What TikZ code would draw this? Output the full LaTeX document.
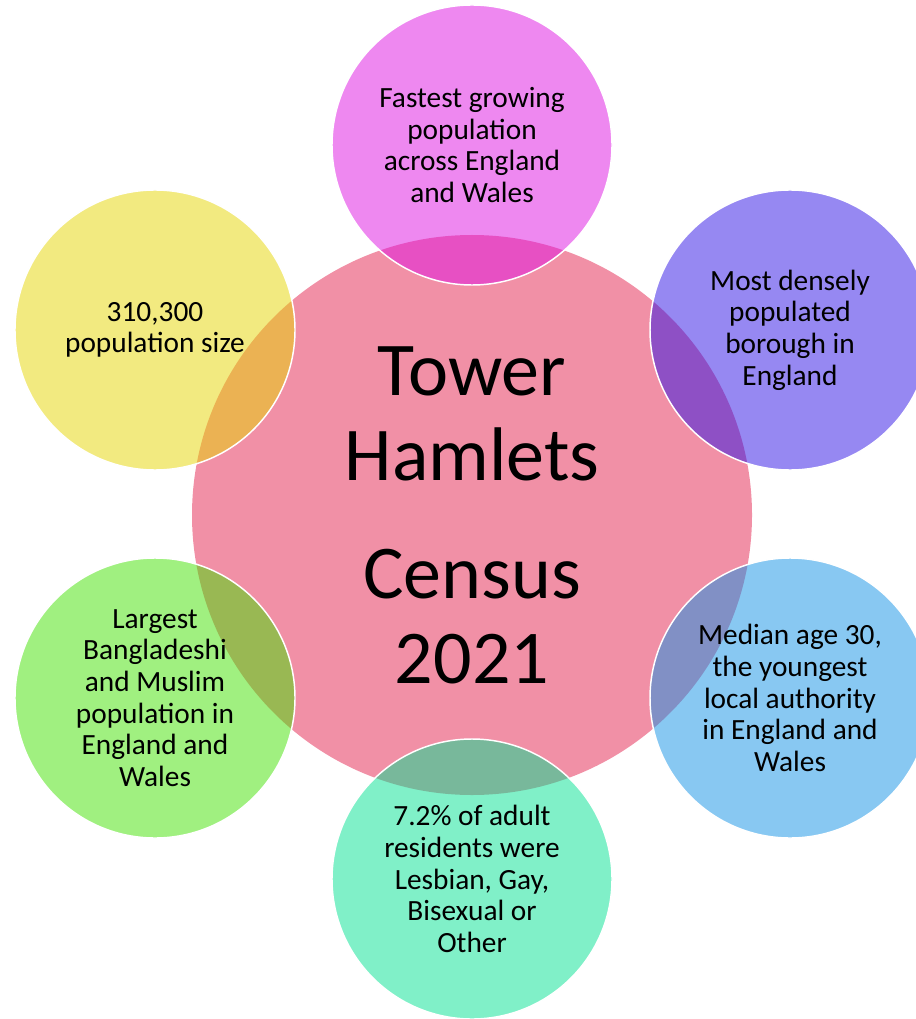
\documentclass[tikz,border=0pt]{standalone}
\usepackage{fontspec}
\setmainfont{Carlito}
\usetikzlibrary{positioning}

\definecolor{hubpink}{RGB}{227,33,77}
\definecolor{factmagenta}{RGB}{221,17,225}
\definecolor{factpurple}{RGB}{45,17,229}
\definecolor{factblue}{RGB}{17,145,229}
\definecolor{factteal}{RGB}{1,225,145}
\definecolor{factgreen}{RGB}{65,225,1}
\definecolor{factyellow}{RGB}{229,213,1}

\begin{document}
\begin{tikzpicture}[
x=0.75pt, y=-0.75pt,
hub/.style={circle, fill=hubpink, fill opacity=0.5, text opacity=1, inner sep=0pt,
  minimum size=420pt, align=center, font=\fontsize{57}{63.75}\selectfont},
fact/.style={circle, fill=#1, fill opacity=0.5, text opacity=1, draw=white,
  draw opacity=1, line width=1.1pt, inner sep=0pt, minimum size=210pt,
  align=center, font=\fontsize{22}{23.7}\selectfont}
]
\useasboundingbox (0,0) rectangle (915,1019);

\node[hub] (TH) at (472,515) {Tower\\Hamlets\\[24.75pt]Census\\2021};

\node[fact=factmagenta] (F1) at (472,145) {Fastest growing\\population\\across England\\and Wales};
\node[fact=factpurple] (F2) at (790,330) {Most densely\\populated\\borough in\\England};
\node[fact=factblue] (F3) at (790,698) {Median age 30,\\the youngest\\local authority\\in England and\\Wales};
\node[fact=factteal] (F4) at (472,879) {7.2\% of adult\\residents were\\Lesbian, Gay,\\Bisexual or\\Other};
\node[fact=factgreen] (F5) at (155,698) {Largest\\Bangladeshi\\and Muslim\\population in\\England and\\Wales};
\node[fact=factyellow] (F6) at (155,330) {310,300\\population size};

\end{tikzpicture}
\end{document}
